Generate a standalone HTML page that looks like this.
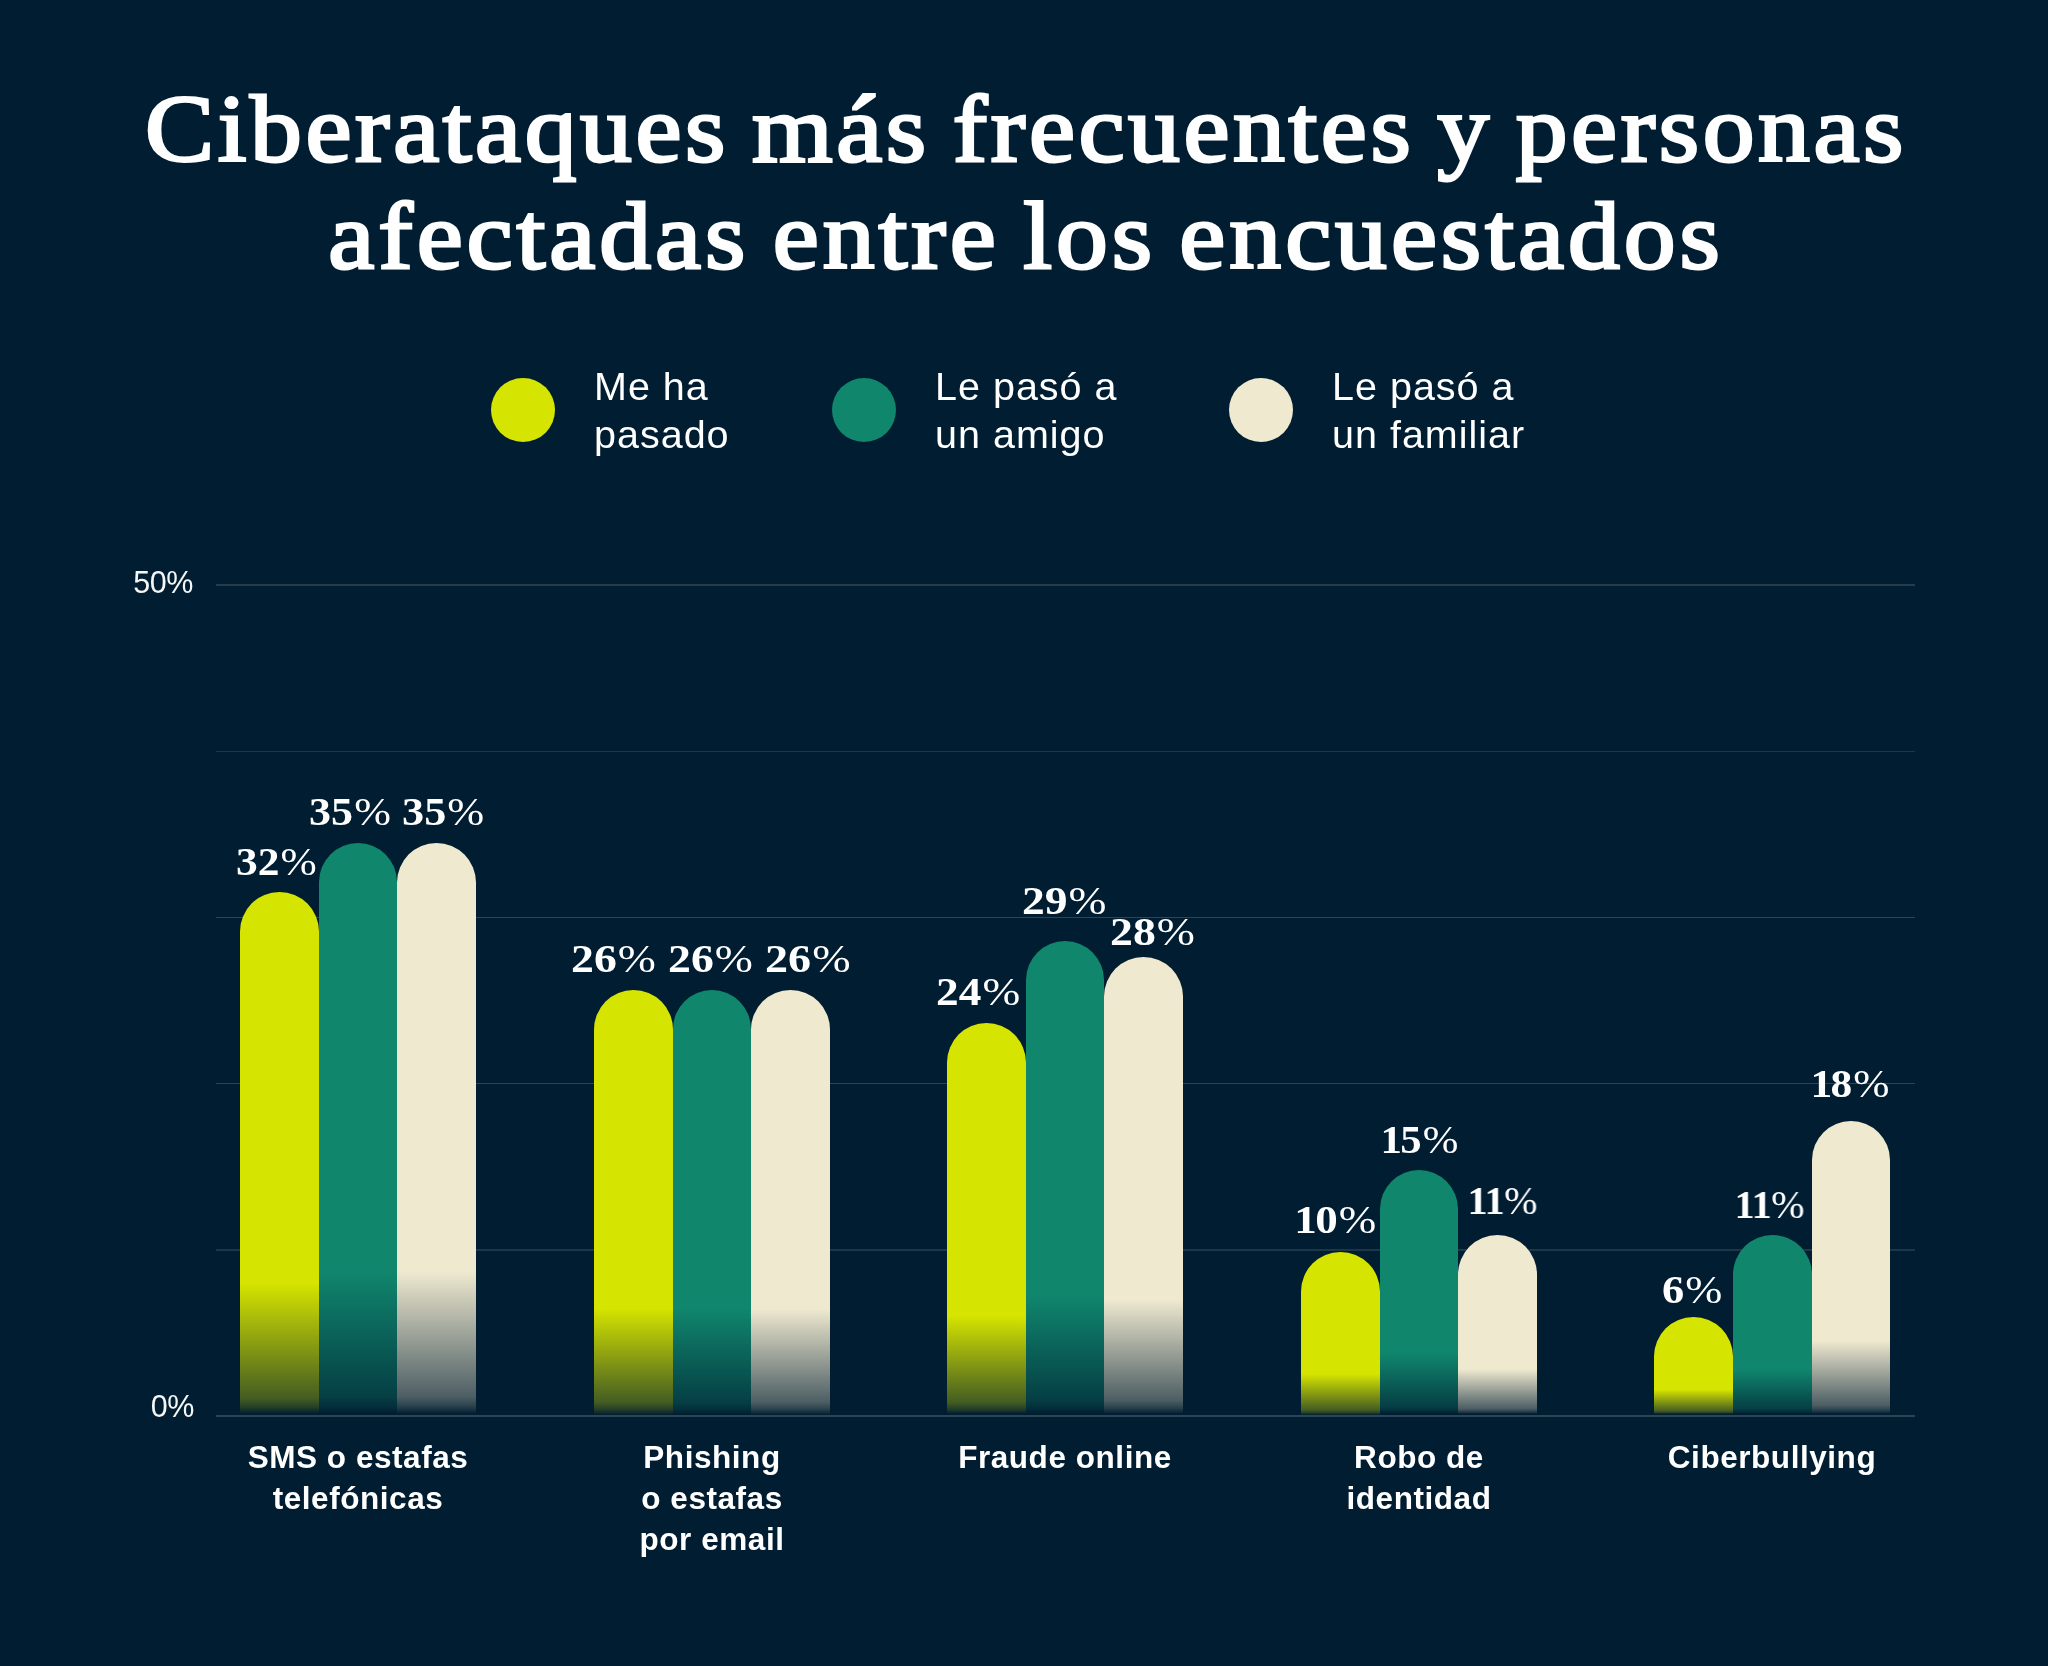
<!DOCTYPE html>
<html lang="es"><head><meta charset="utf-8"><title>Ciberataques más frecuentes</title>
<style>
html,body{margin:0;padding:0;background:#001d31;}
body{width:2048px;height:1666px;position:relative;overflow:hidden;font-family:"Liberation Sans",sans-serif;color:#fff;}
.abs{position:absolute;}
h1{position:absolute;left:0;top:0;width:2048px;margin:0;text-align:center;font-family:"Liberation Serif",serif;font-weight:400;font-size:96px;line-height:106px;color:#fff;-webkit-text-stroke:2.8px #fff;paint-order:stroke fill;}
h1 span{will-change:transform;position:absolute;left:1.5px;width:2048px;white-space:nowrap;transform:scaleX(1.08);transform-origin:1024px 50%;}
.dot{position:absolute;width:64.2px;height:64.2px;border-radius:50%;top:377.5px;}
.leg{will-change:transform;position:absolute;top:362.8px;font-size:39.5px;line-height:47.6px;letter-spacing:1px;color:#fff;white-space:nowrap;}
.grid{position:absolute;left:215.5px;width:1699.5px;height:1px;background:#1c3a4c;}
.axis{position:absolute;left:216px;width:1699px;height:2px;background:#263c4a;}
.yl{will-change:transform;position:absolute;width:100px;text-align:right;font-size:30.5px;line-height:30px;letter-spacing:-0.4px;color:#f4f6f7;}
.bar{position:absolute;border-radius:40px 40px 0 0;}
.y{background:linear-gradient(to bottom,#d5e400 0%,#d5e400 75%,rgba(213,228,0,0.32) 97%,rgba(213,228,0,0.17) 98.7%,rgba(213,228,0,0) 100%);}
.g{background:linear-gradient(to bottom,#10866d 0%,#10866d 75%,rgba(16,134,109,0.32) 97%,rgba(16,134,109,0.17) 98.7%,rgba(16,134,109,0) 100%);}
.c{background:linear-gradient(to bottom,#efe9d0 0%,#efe9d0 75%,rgba(239,233,208,0.32) 97%,rgba(239,233,208,0.17) 98.7%,rgba(239,233,208,0) 100%);}
.v{position:absolute;font-family:"Liberation Serif",serif;font-weight:700;font-size:41px;line-height:41px;color:#fff;white-space:nowrap;transform-origin:0 50%;will-change:transform;}
.v i{font-style:normal;margin:0 -1.5px;}
.v b{font-weight:400;margin-left:1px;}
.cat{will-change:transform;position:absolute;width:400px;text-align:center;font-weight:700;font-size:31.5px;line-height:41px;letter-spacing:0.55px;color:#fff;top:1436.8px;}
</style></head><body>
<h1><span style="top:76.4px;letter-spacing:3.3px;word-spacing:-6px">Ciberataques más frecuentes y personas</span><span style="top:182.6px;letter-spacing:3.66px;word-spacing:-6px">afectadas entre los encuestados</span></h1>
<div class="dot" style="left:490.6px;background:#d5e400"></div><div class="leg" style="left:593.6px">Me ha<br>pasado</div>
<div class="dot" style="left:832.2px;background:#10866d"></div><div class="leg" style="left:935.3px">Le pasó a<br>un amigo</div>
<div class="dot" style="left:1228.6px;background:#efe9d0"></div><div class="leg" style="left:1331.6px">Le pasó a<br>un familiar</div>
<div class="axis" style="top:584px"></div><div class="grid" style="top:751px;height:1px;background:#1d3748"></div><div class="grid" style="top:917px;height:1px;background:#2f4452"></div><div class="grid" style="top:1083px;height:1px;background:#2f4452"></div><div class="grid" style="top:1249px;height:2px;background:#1d3748"></div><div class="axis" style="top:1415px;background:#2b4456"></div>
<div class="yl" style="left:93.3px;top:567.4px">50%</div><div class="yl" style="left:94.4px;top:1390.7px">0%</div>
<div class="bar y" style="left:240px;top:891.9px;width:79px;height:522.6px"></div><div class="v" style="left:236.3px;top:840.5px;transform:scaleX(1.061)">32<b>%</b></div><div class="bar g" style="left:319px;top:842.9px;width:78px;height:571.6px"></div><div class="v" style="left:309.1px;top:790.6px;transform:scaleX(1.075)">35<b>%</b></div><div class="bar c" style="left:397px;top:842.9px;width:79px;height:571.6px"></div><div class="v" style="left:401.7px;top:790.6px;transform:scaleX(1.080)">35<b>%</b></div><div class="cat" style="left:157.9px">SMS o estafas<br>telefónicas</div>
<div class="bar y" style="left:594px;top:990.0px;width:79px;height:424.5px"></div><div class="v" style="left:571.0px;top:938.1px;transform:scaleX(1.116)">26<b>%</b></div><div class="bar g" style="left:673px;top:990.0px;width:78px;height:424.5px"></div><div class="v" style="left:667.9px;top:938.1px;transform:scaleX(1.116)">26<b>%</b></div><div class="bar c" style="left:751px;top:990.0px;width:79px;height:424.5px"></div><div class="v" style="left:764.7px;top:938.1px;transform:scaleX(1.124)">26<b>%</b></div><div class="cat" style="left:511.9px">Phishing<br>o estafas<br>por email</div>
<div class="bar y" style="left:947px;top:1022.6px;width:79px;height:391.9px"></div><div class="v" style="left:935.7px;top:970.6px;transform:scaleX(1.105)">24<b>%</b></div><div class="bar g" style="left:1026px;top:940.9px;width:78px;height:473.6px"></div><div class="v" style="left:1022.1px;top:879.6px;transform:scaleX(1.110)">29<b>%</b></div><div class="bar c" style="left:1104px;top:957.3px;width:79px;height:457.2px"></div><div class="v" style="left:1109.6px;top:910.9px;transform:scaleX(1.116)">28<b>%</b></div><div class="cat" style="left:865.2px">Fraude online</div>
<div class="bar y" style="left:1301px;top:1251.5px;width:79px;height:163.0px"></div><div class="v" style="left:1295.5px;top:1199.1px;transform:scaleX(1.098)"><i>1</i>0<b>%</b></div><div class="bar g" style="left:1380px;top:1169.7px;width:78px;height:244.8px"></div><div class="v" style="left:1381.5px;top:1119.2px;transform:scaleX(1.044)"><i>1</i>5<b>%</b></div><div class="bar c" style="left:1458px;top:1235.1px;width:79px;height:179.4px"></div><div class="v" style="left:1469.4px;top:1180.4px;transform:scaleX(0.976)"><i>1</i><i>1</i><b>%</b></div><div class="cat" style="left:1218.8px">Robo de<br>identidad</div>
<div class="bar y" style="left:1654px;top:1316.8px;width:79px;height:97.7px"></div><div class="v" style="left:1662.1px;top:1269.2px;transform:scaleX(1.084)">6<b>%</b></div><div class="bar g" style="left:1733px;top:1235.1px;width:79px;height:179.4px"></div><div class="v" style="left:1736.3px;top:1184.3px;transform:scaleX(0.977)"><i>1</i><i>1</i><b>%</b></div><div class="bar c" style="left:1812px;top:1120.7px;width:78px;height:293.8px"></div><div class="v" style="left:1811.8px;top:1063.3px;transform:scaleX(1.060)"><i>1</i>8<b>%</b></div><div class="cat" style="left:1572.2px">Ciberbullying</div>
</body></html>
